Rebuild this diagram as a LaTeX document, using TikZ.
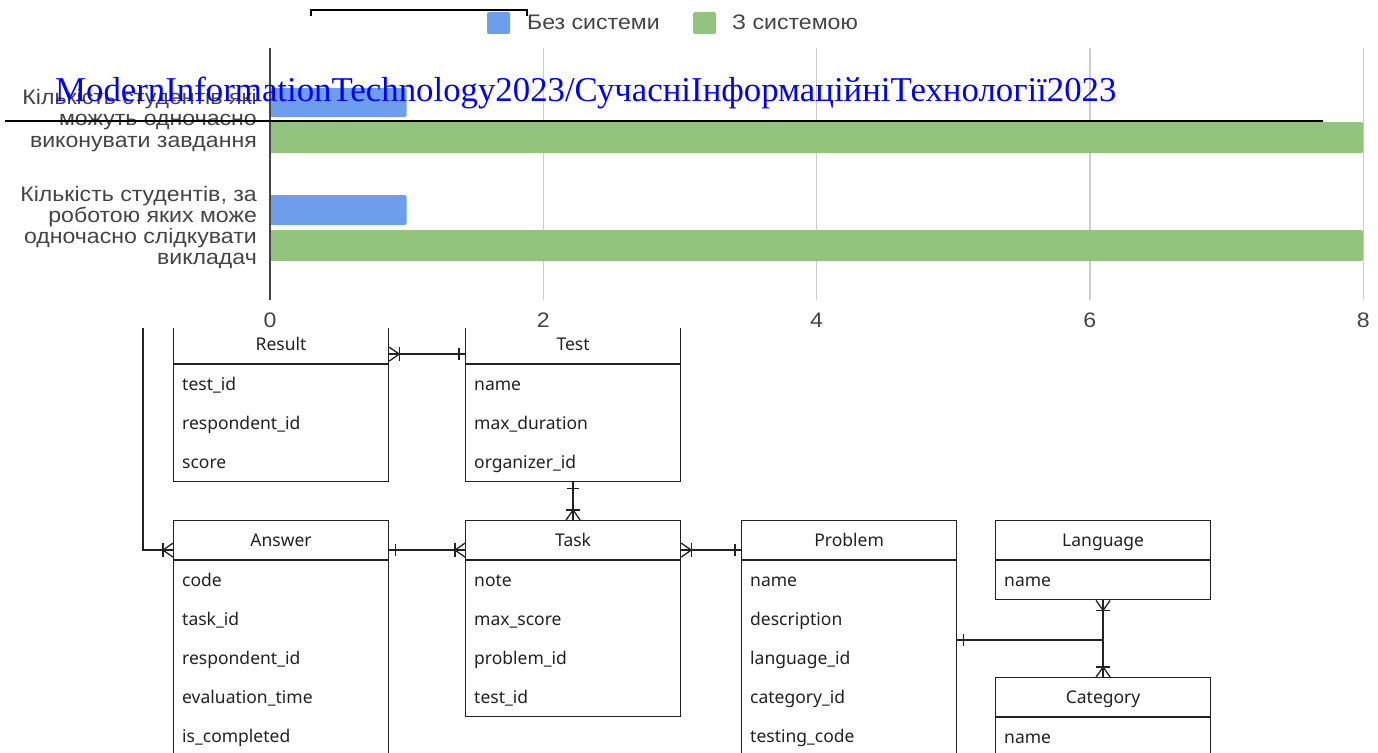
\documentclass[tikz,border=0pt]{standalone}
\usepackage{fontspec}
\setmainfont{Liberation Serif}
\newfontfamily\chartfont[FakeStretch=1.1]{Liberation Sans}
\newfontfamily\erfont{Noto Sans}
\usetikzlibrary{calc}
\definecolor{barblue}{HTML}{6D9EEB}
\definecolor{bargreen}{HTML}{93C47D}
\definecolor{chartgray}{HTML}{444444}
\definecolor{gridgray}{HTML}{CCCCCC}
\definecolor{erline}{HTML}{222222}
\tikzset{
  erhead/.style={draw=erline, line width=1.2pt, minimum width=215pt, minimum height=39pt, inner sep=0pt, anchor=north west, text height=13pt, text depth=0pt, font=\erfont\fontsize{17.5}{20}\selectfont, text=erline},
  erbody/.style={draw=erline, line width=1.2pt, minimum width=215pt, inner sep=0pt, anchor=north west},
  erattr/.style={anchor=base west, inner sep=0pt, font=\erfont\fontsize{17.5}{20}\selectfont, text=erline},
  erconn/.style={draw=erline, line width=1.3pt},
  ermany/.pic={\draw[erconn] (0,-7)--(10,0)--(0,7); \draw[erconn] (10,-7)--(10,7);},
  erone/.pic={\draw[erconn] (6,-6)--(6,6);},
  catlabel/.style={anchor=east, align=right, inner sep=0pt, text=chartgray, font=\chartfont\fontsize{21}{21.3}\selectfont},
  ticklabel/.style={inner sep=0pt, text=chartgray, font=\chartfont\fontsize{21}{21}\selectfont},
  legtext/.style={anchor=west, inner sep=0pt, text=chartgray, font=\chartfont\fontsize{21}{21}\selectfont},
  gridline/.style={draw=gridgray, line width=1.3pt},
}
\newcommand{\erbox}[6]{%
  \node[erhead] (#1) at (#2,#3) {#4};
  \node[erbody, minimum height=#5*39pt] (#1b) at (#1.south west) {};
  \foreach \a [count=\i] in {#6} {\node[erattr] (#1a\i) at ($(#1.south west)+(9,{26+39*(\i-1)})$) {\a};}
}
\begin{document}
\begin{tikzpicture}[x=1pt,y=-1pt]
\useasboundingbox (0,0) rectangle (1378,752);
\clip (0,0) rectangle (1378,752);
\fill[white] (0,0) rectangle (1378,752);
% ---------- ER diagram ----------
\erbox{result}{173}{324}{Result}{3}{test\_id,respondent\_id,score}
\erbox{test}{465}{324}{Test}{3}{name,max\_duration,organizer\_id}
\erbox{answer}{173}{520}{Answer}{6}{code,task\_id,respondent\_id,evaluation\_time,is\_completed}
\erbox{task}{465}{520}{Task}{4}{note,max\_score,problem\_id,test\_id}
\erbox{problem}{741}{520}{Problem}{6}{name,description,language\_id,category\_id,testing\_code}
\erbox{language}{995}{520}{Language}{1}{name}
\erbox{category}{995}{677}{Category}{1}{name}
% connectors
\draw[erconn] ([yshift=-10pt]result.east) -- ([yshift=-10pt]test.west);
\pic at ([yshift=-10pt]result.east) {ermany};
\pic[rotate=180] at ([yshift=-10pt]test.west) {erone};
\draw[erconn] (testb.south) -- (task.north);
\pic[rotate=-90] at (testb.south) {erone};
\pic[rotate=90] at (task.north) {ermany};
\draw[erconn] ([yshift=-10pt]answer.east) -- ([yshift=-10pt]task.west);
\pic at ([yshift=-10pt]answer.east) {erone};
\pic[rotate=180] at ([yshift=-10pt]task.west) {ermany};
\draw[erconn] ([yshift=-10pt]task.east) -- ([yshift=-10pt]problem.west);
\pic at ([yshift=-10pt]task.east) {ermany};
\pic[rotate=180] at ([yshift=-10pt]problem.west) {erone};
\coordinate (jn) at (1102.5,640);
\draw[erconn] (languageb.south) -- (category.north);
\draw[erconn] (problemb.east |- jn) -- (jn);
\pic at (problemb.east |- jn) {erone};
\pic[rotate=-90] at (languageb.south) {ermany};
\pic[rotate=90] at (category.north) {ermany};
\coordinate (lt) at (143,300);
\draw[erconn] (lt) |- ([yshift=-10pt]answer.west);
\pic[rotate=180] at ([yshift=-10pt]answer.west) {ermany};
% ---------- chart ----------
\fill[white] (0,0) rectangle (1378,328);
\foreach \k/\xx in {1/543.3,2/816.6,3/1089.9,4/1363.2} {\draw[gridline] (\xx,48) -- (\xx,300);}
\fill[barblue, rounded corners=2pt] (270,88) rectangle (406.6,117);
\fill[bargreen, rounded corners=2pt] (270,122) rectangle (1363.2,153);
\fill[barblue, rounded corners=2pt] (270,195) rectangle (406.6,225);
\fill[bargreen, rounded corners=2pt] (270,230) rectangle (1363.2,261);
\draw[draw=chartgray, line width=1.3pt] (270,48) -- (270,300);
\node[ticklabel] (t0) at (270,320) {0};
\node[ticklabel] (t2) at (543.3,320) {2};
\node[ticklabel] (t4) at (816.6,320) {4};
\node[ticklabel] (t6) at (1089.9,320) {6};
\node[ticklabel] (t8) at (1363.2,320) {8};
\node[catlabel] (cat1) at (257,120.5) {Кількість студентів які\\можуть одночасно\\виконувати завдання};
\node[catlabel] (cat2) at (257,227.5) {Кількість студентів, за\\роботою яких може\\одночасно слідкувати\\викладач};
\fill[barblue, rounded corners=2pt] (487,12) rectangle (510,34);
\node[legtext] (leg1) at (527,22) {Без системи};
\fill[bargreen, rounded corners=2pt] (693,12) rectangle (716,34);
\node[legtext] (leg2) at (732,22) {З системою};
% ---------- overlay ----------
\draw[black, line width=1.5pt] (311,16) -- (311,10) -- (527,10) -- (527,16);
\draw[black, line width=2pt] (5,121) -- (1323,121);
\node[anchor=base west, inner sep=0pt, text=blue, font=\fontsize{34.8}{40}\selectfont] (hdr) at (55,101) {ModernInformationTechnology2023/СучасніІнформаційніТехнології2023};
\end{tikzpicture}
\end{document}
